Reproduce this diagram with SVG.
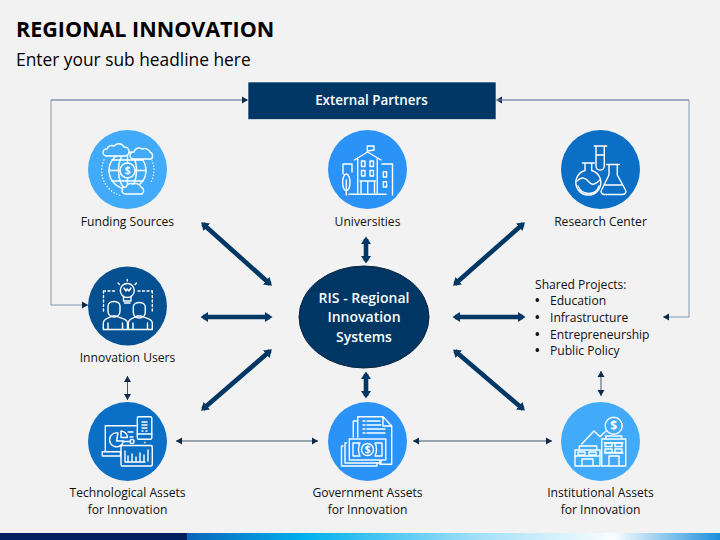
<svg xmlns="http://www.w3.org/2000/svg" width="720" height="540" viewBox="0 0 720 540">
<style>
text{font-family:"Open Sans","Liberation Sans",sans-serif;fill:#111}
.lb{font-size:12.100px;text-anchor:middle}
.w{fill:#fff;font-weight:600;font-size:14px;text-anchor:middle}
.ic{fill:none;stroke:#fff;stroke-width:1.4;stroke-linejoin:round;stroke-linecap:round}
.d{fill:#fff;font-size:10px;font-weight:700;text-anchor:middle;stroke:none}
.thick{fill:none;stroke:#003764;stroke-width:4.600;marker-start:url(#hb);marker-end:url(#hb)}
.thin{fill:none;stroke:#8496b0;stroke-width:1;marker-end:url(#hs)}
.thin2{fill:none;stroke:#44546a;stroke-width:1;marker-start:url(#hs);marker-end:url(#hs)}
.bu{font-weight:700}
</style>
<defs>
<linearGradient id="bar" x1="187" x2="720" y1="0" y2="0" gradientUnits="userSpaceOnUse">
<stop offset="0" stop-color="#0a66b8"/><stop offset=".22" stop-color="#00b0f0"/><stop offset=".55" stop-color="#a4e0f8"/><stop offset=".8" stop-color="#fafdff"/><stop offset="1" stop-color="#1c8fdc"/>
</linearGradient>
<marker id="hb" markerUnits="userSpaceOnUse" markerWidth="10" markerHeight="12" refX="5" refY="6" orient="auto-start-reverse"><path d="M0 1L7.500 6L0 11Z" fill="#003764"/></marker>
<marker id="hs" markerUnits="userSpaceOnUse" markerWidth="7" markerHeight="8" refX="6" refY="4" orient="auto-start-reverse"><path d="M0 .5L6 4L0 7.500Z" fill="#0f2a4a"/></marker>
</defs>
<rect width="720" height="540" fill="#f2f2f2"/>
<text x="16" y="37" font-size="21.500" font-weight="700" style="fill:#000">REGIONAL INNOVATION</text>
<text x="16" y="66" font-size="17.350" style="fill:#000">Enter your sub headline here</text>
<g id="footer"><rect y="533" width="187" height="7" fill="#002060"/><rect x="187" y="533" width="533" height="7" fill="url(#bar)"/></g>

<g id="connectors">
<path class="thin" d="M248 100H51V305H88"/>
<path class="thin" d="M51 100H248"/>
<path class="thin" d="M689 100H496"/>
<path class="thin" d="M496 100H689V317H663"/>
<path class="thick" d="M203 224L270 284"/>
<path class="thick" d="M523 224L455 284"/>
<path class="thick" d="M203 317H270"/>
<path class="thick" d="M455 317H523"/>
<path class="thick" d="M270 351L203 409"/>
<path class="thick" d="M455 351L523 409"/>
<path class="thick" d="M366 239V261"/>
<path class="thick" d="M366 374V396"/>
<path class="thin2" d="M127.500 376V400"/>
<path class="thin2" d="M601 371V396"/>
<path class="thin2" d="M176 441H318"/>
<path class="thin2" d="M413 441H552"/>
</g>

<g id="external-partners"><rect x="248" y="82" width="248" height="37.500" fill="#003764" stroke="#fff" stroke-width=".6"/><text class="w" x="371.500" y="105" style="font-size:13.400px">External Partners</text></g>

<g id="funding-sources"><circle cx="127.500" cy="169.500" r="39.500" fill="#41abf9"/>
<g class="ic"><circle cx="127.500" cy="170.500" r="18.500"/><ellipse cx="127.500" cy="170.500" rx="9" ry="18.500"/><path d="M109 170.500H146M112 160H143M112 181H143M127.500 152V189"/><path stroke-dasharray=".1 3" d="M104 160A26 26 0 0 0 122 196M152 160A26 26 0 0 1 151 182"/></g>
<circle cx="127.500" cy="170.500" r="7.500" fill="#41abf9" stroke="#fff" stroke-width="1.400"/><text class="d" x="127.500" y="174">$</text>
<g class="ic" style="fill:#41abf9"><path d="M106 156a3.500 3.500 0 0 1 1-7a5 5 0 0 1 7-3a6 6 0 0 1 10 1a4 4 0 0 1 1 9z"/><path d="M133 159a3.500 3.500 0 0 1 1-7a5 5 0 0 1 8-3a6 6 0 0 1 8 3a4 4 0 0 1 1 7z"/><path d="M125 194a3.500 3.500 0 0 1 1-7a5 5 0 0 1 7-3a6 6 0 0 1 8 3a4 4 0 0 1 1 7z"/></g>
<text class="lb" x="127.500" y="226">Funding Sources</text></g>

<g id="universities"><circle cx="367.500" cy="169.500" r="39.500" fill="#2b93f8"/>
<g class="ic"><path d="M354.500 160L367.500 152L381 160M357.700 158V193M377.300 158V193M367.300 152V146H374V150L367.300 151"/><rect x="361.500" y="161" width="3.500" height="5.500"/><rect x="370" y="161" width="3.500" height="5.500"/><rect x="361.500" y="170.500" width="3.500" height="5.500"/><rect x="370" y="170.500" width="3.500" height="5.500"/><path d="M360 181H375.500M361 181V193M374.500 181V193M367.700 181V193"/><path d="M343 174V164H352M352 164V172M382 164H392.500V195M349 194.300H386M346.300 180V195"/><ellipse cx="346.300" cy="182.300" rx="3.700" ry="8.300"/><rect x="383.300" y="171.700" width="3.300" height="5.300"/><rect x="383.300" y="181.700" width="3.300" height="5.300"/></g>
<text class="lb" x="367.500" y="226">Universities</text></g>

<g id="research-center"><circle cx="600.500" cy="169.500" r="39.500" fill="#0b6fc6"/>
<g class="ic"><path d="M594.300 146H606.700M596 146V166A4 4 0 0 0 604.300 166V146M596 155H604.300"/><path d="M582.300 163H594.300M585 163V170.500A12.500 12.500 0 1 0 591.700 170.500V163"/><path d="M577 181C582 176 586 178 589 182C592 186 596 184 600 180M578 186C582 196 596 196 599 186"/><path d="M606.700 164.500H619.300M609 164.500V175L601.500 190A3 3 0 0 0 604 194.500H623A3 3 0 0 0 625.500 190L617.300 175V164.500M605 185H622"/></g>
<text class="lb" x="600.500" y="226">Research Center</text></g>

<g id="innovation-users"><circle cx="127.500" cy="306" r="39.500" fill="#045091"/>
<g class="ic"><circle cx="127.300" cy="290.500" r="7"/><path d="M123.500 296.500V301H131V296.500M124.500 303H130M124 288L126 291L127.300 289L129 291L131 288M127.300 279.500V281M118 283L119.500 284.500M136.500 283L135 284.500"/><path stroke-dasharray="2 2.500" d="M103.500 291H117M138 291H152M103.500 291V312M152.300 291V312"/><path d="M108 306C108 300 120 300 120 306V311C120 319 108 319 108 311Z"/><path d="M103.300 329.500V323C103.300 318 110 318 112 316H116C118 318 127.500 318 127.500 323V329.500ZM108 329.500V323M122.500 329.500V323"/><path d="M133.300 307C133.300 301 145.300 301 145.300 307V312C145.300 320 133.300 320 133.300 312Z"/><path d="M128.300 329.500V323C128.300 318 135 318 137 316H141.500C143.500 318 152.300 318 152.300 323V329.500ZM133 329.500V323M147.500 329.500V323"/></g>
<text class="lb" x="127.500" y="362">Innovation Users</text></g>

<g id="technological-assets"><circle cx="127.500" cy="441.500" r="39.500" fill="#0b6fc6"/>
<g class="ic"><path d="M105.300 451.500V425.700H136M102.300 451.700H120.500V456H102.300Z"/><path d="M118 433A7 7 0 1 0 123.500 441H116.500Z"/><path d="M121 431V437.500H127.500A7 7 0 0 0 121 431ZM128 432H133M130 437H133M124 441.500H129"/><circle cx="132" cy="441.500" r="2"/><rect x="137.300" y="416.700" width="14.500" height="22.500" rx="1.500"/><path d="M137.300 434H151.800M142 422H147M142 425H147M142 428H147M142 431H143M146 431H147M144.500 442.500H145"/><rect x="121" y="445.500" width="31.300" height="20.500" rx="1.500"/><path d="M148 450V461M125 451V462H145M128 461V456M132 461V454M136 461V457M140 461V453M144 461V455"/></g>
<text class="lb" x="127.500" y="497">Technological Assets</text><text class="lb" x="127.500" y="514">for Innovation</text></g>

<g id="government-assets"><circle cx="367.500" cy="441.500" r="39.500" fill="#2b93f8"/>
<g class="ic"><path d="M353.300 437V421H357.700M357.700 437V416.700H383L391.700 426V464.300H380V459M383 416.700V426H391.700"/><path d="M363 421H365M367 421H380M363 425H365M367 425H381M363 429H365M367 429H385M363 433H365M367 433H385"/><path d="M343 446H341.500V466H377V463M346.500 443H345V463H381V460"/></g>
<rect x="349.300" y="439" width="36.400" height="21" fill="#2b93f8" stroke="#fff" stroke-width="1.400"/>
<g class="ic"><path d="M353 443H360C358 446 358 452 360 456H353ZM382 443H375C377 446 377 452 375 456H382Z"/><circle cx="367.500" cy="449.500" r="6"/></g><text class="d" x="367.500" y="453">$</text>
<text class="lb" x="367.500" y="497">Government Assets</text><text class="lb" x="367.500" y="514">for Innovation</text></g>

<g id="institutional-assets"><circle cx="600.500" cy="441.500" r="39.500" fill="#41abf9"/>
<g class="ic"><circle cx="613.700" cy="425.700" r="8.500"/><path d="M581.700 444L594 431L600 436.700L606 431"/><path d="M601.700 466V439H625.700V466ZM605.700 439V436H621.700V439M604.500 443H623M604.500 453H623M609 466V456H619V466"/><rect x="605" y="443" width="7" height="3.500"/><rect x="615" y="443" width="7" height="3.500"/><rect x="605" y="449" width="7" height="3.500"/><rect x="615" y="449" width="7" height="3.500"/><path d="M575 466V450H600V466ZM579.300 450V446H596.700V450M575 456H600M582 466V459H593V466"/><rect x="578" y="452" width="7" height="3"/><rect x="589" y="452" width="7" height="3"/></g><text class="d" x="613.700" y="429.500" style="font-size:12px">$</text>
<text class="lb" x="600.500" y="497">Institutional Assets</text><text class="lb" x="600.500" y="514">for Innovation</text></g>

<g id="shared-projects" style="font-size:12.100px"><text x="535" y="289">Shared Projects:</text>
<text class="bu" x="535" y="305">•</text><text x="550" y="305">Education</text>
<text class="bu" x="535" y="322">•</text><text x="550" y="322">Infrastructure</text>
<text class="bu" x="535" y="339">•</text><text x="550" y="339">Entrepreneurship</text>
<text class="bu" x="535" y="355">•</text><text x="550" y="355">Public Policy</text></g>

<g id="ris"><ellipse cx="364" cy="317" rx="65" ry="51" fill="#003764" stroke="#0b2440" stroke-width="1"/><text class="w" x="364" y="303">RIS - Regional</text><text class="w" x="364" y="322">Innovation</text><text class="w" x="364" y="342">Systems</text></g>
</svg>
